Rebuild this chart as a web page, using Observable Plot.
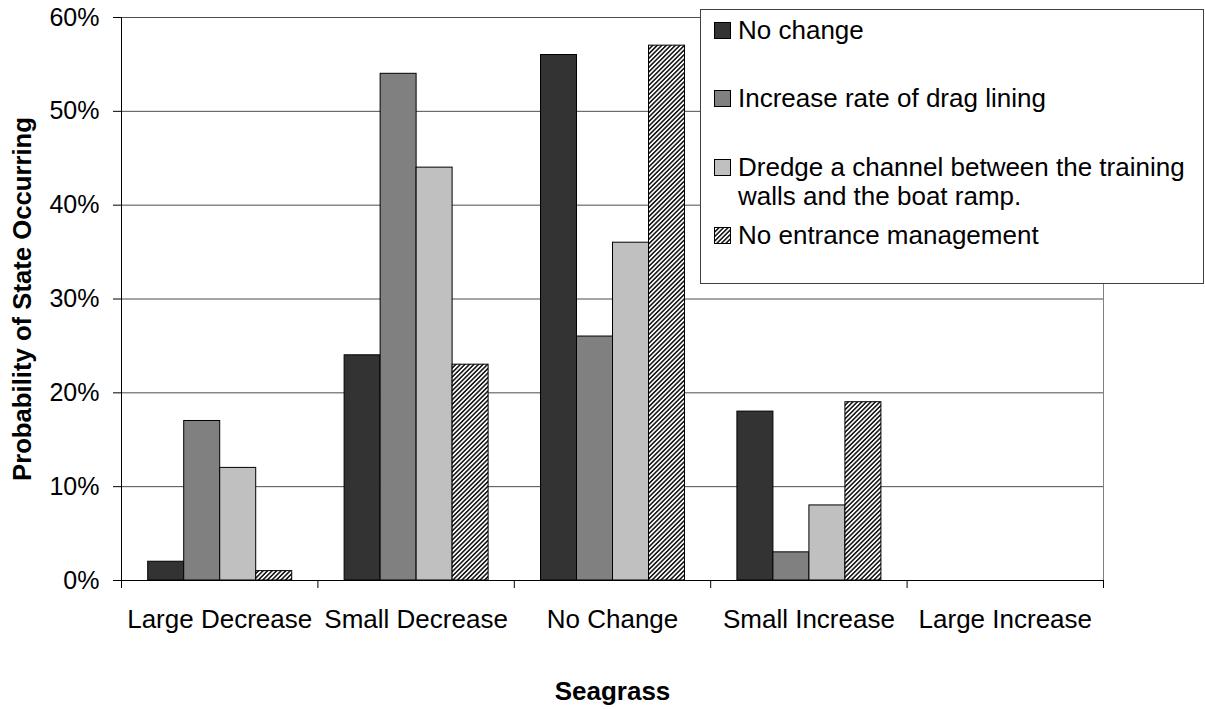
<!DOCTYPE html>
<html>
<head>
<meta charset="utf-8">
<script src="https://cdn.jsdelivr.net/npm/d3@7"></script>
<script src="https://cdn.jsdelivr.net/npm/@observablehq/plot@0.6"></script>
<style>
  html, body { margin: 0; padding: 0; background: #fff; }
  #wrap { position: relative; width: 1205px; height: 709px; font-family: "Liberation Sans", Arial, sans-serif; }
  #legend { position: absolute; left: 700px; top: 9px; width: 504px; height: 275px; box-sizing: border-box;
            border: 1px solid #404040; background: #fff; }
  .item { position: absolute; left: 0; height: 29px; font-size: 26px; line-height: 29px; color: #000; white-space: nowrap; }
  .item .sw { position: absolute; left: 13px; top: 6px; width: 17px; height: 17px; }
  .item .lbl { position: absolute; left: 37px; top: 0; }
</style>
</head>
<body>
<svg width="0" height="0" style="position:absolute">
  <defs>
    <pattern id="hatch" patternUnits="userSpaceOnUse" width="3.2" height="3.2" patternTransform="rotate(45)">
      <rect x="0" y="0" width="3.2" height="3.2" fill="#ffffff"></rect>
      <rect x="0" y="0" width="1.6" height="3.2" fill="#1a1a1a"></rect>
    </pattern>
  </defs>
</svg>
<div id="wrap">
  <div id="chart"></div>
  <div id="legend"></div>
</div>
<script>
// ---- data ----
const categories = ["Large Decrease", "Small Decrease", "No Change", "Small Increase", "Large Increase"];
const series = ["No change", "Increase rate of drag lining", "Dredge a channel between the training walls and the boat ramp.", "No entrance management"];
const noChange     = [2, 24, 56, 18, 0];
const dragLining   = [17, 54, 26, 3, 0];
const dredge       = [12, 44, 36, 8, 0];
const noManagement = [1, 23, 57, 19, 0];
const yTicks = [0, 10, 20, 30, 40, 50, 60];
const seriesColors = ["#333333", "#808080", "#c0c0c0", "url(#hatch)"];

const values = [noChange, dragLining, dredge, noManagement];
const rows = categories.flatMap((c, ci) => series.map((s, si) => ({category: c, ci, si, series: s, value: values[si][ci]})));

// group layout within each category slot (fraction of slot)
const groupOffset = 0.136;
const barW = 0.1833;

const chart = Plot.plot({
  width: 1205,
  height: 709,
  marginLeft: 121,
  marginRight: 102,
  marginTop: 17,
  marginBottom: 129,
  style: {fontFamily: "Liberation Sans, Arial, sans-serif", fontSize: "25px", color: "#000", background: "#fff"},
  x: {domain: [0, categories.length], axis: null},
  y: {domain: [0, 60], axis: null},
  color: {type: "ordinal", domain: series, range: seriesColors},
  marks: [
    Plot.gridY(yTicks, {stroke: "#4d4d4d", strokeOpacity: 1, strokeWidth: 1}),
    Plot.ruleX([categories.length], {stroke: "#808080", strokeWidth: 1}),
    Plot.rectY(rows, {
      x1: d => d.ci + groupOffset + d.si * barW,
      x2: d => d.ci + groupOffset + (d.si + 1) * barW,
      y: "value",
      fill: "series",
      stroke: "#000",
      strokeWidth: 1
    }),
    Plot.ruleX([0], {stroke: "#000"}),
    Plot.ruleY([0], {stroke: "#000"}),
    Plot.axisY({ticks: yTicks, tickSize: 8, tickPadding: 14, tickFormat: d => d + "%", fontSize: 25, label: null, stroke: "#000"}),
    Plot.axisX({ticks: d3.range(categories.length + 1), tickSize: 8, tickFormat: () => "", label: null, stroke: "#000"}),
    Plot.axisX({ticks: categories.map((c, i) => i + 0.5), tickSize: 0, tickPadding: 29, tickFormat: v => categories[Math.floor(v)], fontSize: 26, label: null}),
    Plot.text(["Probability of State Occurring"], {frameAnchor: "left", dx: -99, rotate: -90, fontWeight: "bold", fontSize: 25.7, textAnchor: "middle", lineAnchor: "middle"}),
    Plot.text(["Seagrass"], {frameAnchor: "bottom", dy: 111, fontWeight: "bold", fontSize: 26, textAnchor: "middle", lineAnchor: "middle"})
  ]
});
document.getElementById("chart").appendChild(chart);

// ---- legend ----
const legend = document.getElementById("legend");
const itemTops = [6, 74, 143, 211];
series.forEach((s, i) => {
  const item = document.createElement("div");
  item.className = "item";
  item.style.top = itemTops[i] + "px";
  const sw = document.createElementNS("http://www.w3.org/2000/svg", "svg");
  sw.setAttribute("class", "sw");
  sw.setAttribute("width", 17);
  sw.setAttribute("height", 17);
  const r = document.createElementNS("http://www.w3.org/2000/svg", "rect");
  r.setAttribute("x", 0.5); r.setAttribute("y", 0.5);
  r.setAttribute("width", 16); r.setAttribute("height", 16);
  r.setAttribute("fill", seriesColors[i]);
  r.setAttribute("stroke", "#000");
  sw.appendChild(r);
  item.appendChild(sw);
  const lbl = document.createElement("div");
  lbl.className = "lbl";
  if (i === 2) {
    lbl.innerHTML = "Dredge a channel between the training<br>walls and the boat ramp.";
  } else {
    lbl.textContent = s;
  }
  item.appendChild(lbl);
  legend.appendChild(item);
});
</script>
</body>
</html>
